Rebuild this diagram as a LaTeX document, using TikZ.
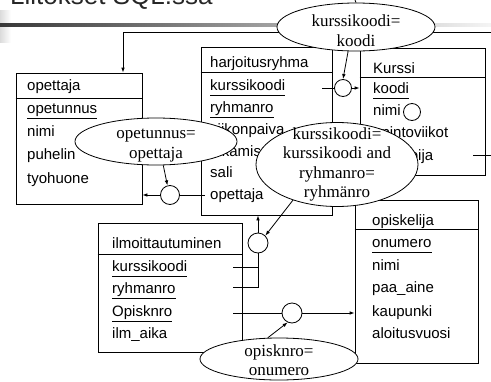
\documentclass[tikz,border=0pt]{standalone}
\usepackage{fontspec}
\setmainfont{Liberation Serif}
\setsansfont{Liberation Sans}
\usetikzlibrary{arrows.meta,shapes.geometric}
\begin{document}
\begin{tikzpicture}[x=1pt,y=-1pt,
  ln/.style={line width=0.8pt},
  arr/.style={ln,-{Latex[length=5pt,width=3.6pt]}},
  tbl/.style={draw,ln,inner sep=0pt},
  rowtxt/.style={anchor=base west,inner sep=0pt,font=\sffamily\fontsize{15}{18}\selectfont},
  joinc/.style={draw,ln,circle,inner sep=0pt,fill=white},
  ell/.style={draw,ln,ellipse,fill=white,inner sep=0pt},
  elltext/.style={inner sep=0pt,align=center,font=\fontsize{17}{19.5}\selectfont}]
\useasboundingbox (0,0) rectangle (491,381);
\clip (0,0) rectangle (491,381);
% slide decoration
\shade[left color=black!14,right color=white] (0,10) rectangle (11,42);
\shade[left color=black!78,right color=black!4] (0,23.5) rectangle (491,26.5);
\node[anchor=base west,inner sep=0pt,font=\sffamily\fontsize{26}{30}\selectfont,text=black!85] (title) at (10,4) {Liitokset SQL:ssa};

% tables
\node[tbl,minimum width=126pt,minimum height=131pt] (opbox) at (79,138.5) {};
\node[tbl,minimum width=131pt,minimum height=168pt] (hbox) at (266.5,131) {};
\node[tbl,minimum width=125pt,minimum height=127pt] (kbox) at (422.5,111.5) {};
\node[tbl,minimum width=144pt,minimum height=129pt] (ibox) at (170,287.5) {};
\node[tbl,minimum width=123pt,minimum height=163pt] (obox) at (416.5,281.5) {};
\draw[ln] (opbox.west |- 0,98) -- (opbox.east |- 0,98);
\draw[ln] (hbox.west |- 0,72) -- (hbox.east |- 0,72);
\draw[ln] (kbox.west |- 0,77) -- (kbox.east |- 0,77);
\draw[ln] (ibox.west |- 0,254) -- (ibox.east |- 0,254);
\draw[ln] (obox.west |- 0,229) -- (obox.east |- 0,229);

% opettaja
\node[rowtxt] (op0) at (27,90) {opettaja};
\node[rowtxt] (op1) at (27,113) {opetunnus};
\node[rowtxt] (op2) at (27,136) {nimi};
\node[rowtxt] (op3) at (27,159) {puhelin};
\node[rowtxt] (op4) at (27,183) {tyohuone};
% harjoitusryhma
\node[rowtxt] (h0) at (210,67) {harjoitusryhma};
\node[rowtxt] (h1) at (210,90) {kurssikoodi};
\node[rowtxt] (h2) at (210,112) {ryhmanro};
\node[rowtxt] (h3) at (210,134) {viikonpaiva};
\node[rowtxt] (h4) at (210,156) {alkamisaika};
\node[rowtxt] (h5) at (210,177) {sali};
\node[rowtxt] (h6) at (210,199) {opettaja};
% Kurssi
\node[rowtxt] (k0) at (373,73) {Kurssi};
\node[rowtxt] (k1) at (373,93.5) {koodi};
\node[rowtxt] (k2) at (373,115) {nimi};
\node[rowtxt] (k3) at (373,137) {opintoviikot};
\node[rowtxt] (k4) at (373,160) {luennoija};
% ilmoittautuminen
\node[rowtxt] (i0) at (112,248) {ilmoittautuminen};
\node[rowtxt] (i1) at (112,271) {kurssikoodi};
\node[rowtxt] (i2) at (112,293) {ryhmanro};
\node[rowtxt] (i3) at (112,316) {Opisknro};
\node[rowtxt] (i4) at (112,338) {ilm\_aika};
% opiskelija
\node[rowtxt] (s0) at (372,225) {opiskelija};
\node[rowtxt] (s1) at (372,247) {onumero};
\node[rowtxt] (s2) at (372,270) {nimi};
\node[rowtxt] (s3) at (372,292) {paa\_aine};
\node[rowtxt] (s4) at (372,316) {kaupunki};
\node[rowtxt] (s5) at (372,338) {aloitusvuosi};

% underlines of keys
\foreach \n in {op1,h1,h2,k1,i1,i2,i3,s1}
  \draw[ln] ([yshift=-5pt]\n.base west) -- ([yshift=-5pt]\n.base east);

% join circles
\node[joinc,minimum size=17pt] (c1) at (343,88) {};
\node[joinc,minimum size=19pt] (c2) at (170,195) {};
\node[joinc,minimum size=20pt] (c3) at (258,243) {};
\node[joinc,minimum size=20pt] (c4) at (292,313) {};
\node[joinc,minimum size=17pt] (c5) at (412,112) {};

% connectors
\coordinate (tr) at (491,32);
\coordinate (tl) at (123,32);
\draw[arr] (tr) -- (tl) -- (tl |- opbox.north);
\coordinate (kst) at (473,155);
\coordinate (kre) at (491,155);
\draw[ln] (kst) -- (kre);
\coordinate (hk) at (322,88);
\draw[ln] (hk) -- (c1.west);
\draw[arr] (c1.east) -- (c1.east -| kbox.west);
\draw[ln] (c2.east) -- ([xshift=-5pt]c2.east -| h6.west);
\draw[arr] (c2.west) -- (c2.west -| opbox.east);
\draw[arr] (c3.north) -- (c3.north |- hbox.south);
\coordinate (ik) at (233,267);
\coordinate (ir) at (233,287);
\draw[ln] (ik) -- (ik -| c3.south);
\draw[ln] (c3.south) -- (c3.south |- ir) -- (ir);
\coordinate (io) at (233,313);
\draw[ln] (io) -- (c4.west);
\draw[arr] (c4.east) -- (c4.east -| obox.west);

% condition ellipses
\coordinate (ttop) at (355,0);
\node[ell,minimum width=158pt,minimum height=48pt] (e1) at (356,27) {};
\draw[ln] (e1.north) -- (ttop);
\node[elltext] at ([yshift=-3.5pt]e1.center) {kurssikoodi=\\koodi};
\node[ell,minimum width=162pt,minimum height=47pt] (e2) at (156,141.5) {};
\node[elltext] at ([yshift=-4pt]e2.center) {opetunnus=\\opettaja};
\node[ell,minimum width=162pt,minimum height=84pt] (e3) at (337,164.5) {};
\node[elltext] at (e3.center) {kurssikoodi=\\kurssikoodi and\\ryhmanro=\\ryhmänro};
\node[ell,minimum width=158pt,minimum height=42pt] (e4) at (279,359) {};
\node[elltext] at ([yshift=-1pt]e4.center) {opisknro=\\onumero};

\draw[arr] (e1.-108) -- (c1.north);
\draw[arr] (e2.-73) -- (c2.105);
\draw[arr] (e3.-141) -- (c3.45);
\draw[arr] (e4.118) -- (c4.-115);
\end{tikzpicture}
\end{document}
